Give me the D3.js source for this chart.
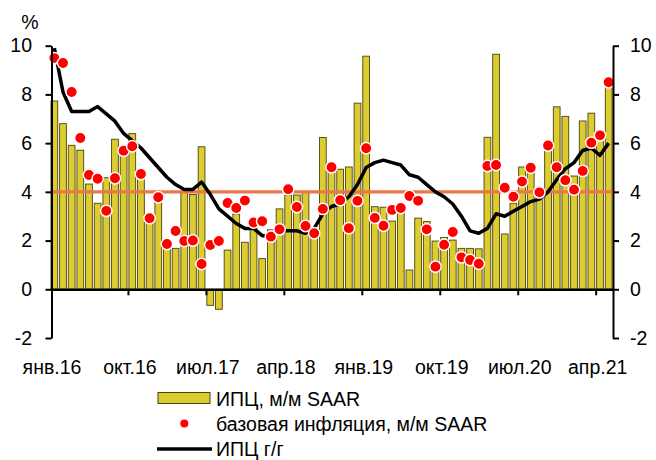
<!DOCTYPE html>
<html>
<head>
<meta charset="utf-8">
<script src="https://cdn.jsdelivr.net/npm/d3@7"></script>
<style>
  body { margin: 0; background: #fff; }
  text { font-family: "Liberation Sans", Arial, sans-serif; fill: #000; }
</style>
</head>
<body>
<div id="chart"></div>
<script>
// Months Jan 2016 .. May 2021
const months = d3.timeMonth.range(new Date(2016, 0, 1), new Date(2021, 5, 1));

// ИПЦ, м/м SAAR (bars)
const cpiMoM = [7.73, 6.80, 5.91, 5.71, 4.32, 3.53, 4.58, 6.16, 5.80, 6.39,
  4.62, 2.90, 3.60, 1.82, 1.68, 3.98, 3.89, 5.85, -0.66, -0.82,
  1.61, 3.09, 1.93, 2.78, 1.26, 2.44, 3.30, 3.87, 3.87, 3.97,
  2.44, 6.23, 5.10, 4.93, 5.02, 7.64, 9.57, 3.39, 3.37, 2.80,
  3.53, 0.79, 2.92, 2.78, 1.98, 2.13, 2.02, 1.68, 1.68, 1.66,
  6.24, 9.65, 2.27, 3.53, 5.02, 4.90, 3.94, 5.93, 7.49, 7.10,
  4.65, 6.91, 7.23, 6.10, 8.32];

// базовая инфляция, м/м SAAR (dots)
const coreMoM = [9.49, 9.29, 8.10, 6.21, 4.69, 4.54, 3.22, 4.56, 5.69, 5.87,
  4.73, 2.92, 3.78, 1.86, 2.39, 1.98, 2.00, 1.04, 1.82, 1.98,
  3.54, 3.34, 3.64, 2.74, 2.79, 2.16, 2.46, 4.11, 3.38, 2.60,
  2.30, 3.30, 5.01, 3.66, 2.51, 3.63, 5.79, 2.93, 2.61, 3.26,
  3.34, 3.83, 3.63, 2.46, 0.93, 1.83, 2.35, 1.31, 1.20, 1.05,
  5.06, 5.10, 4.17, 3.80, 4.42, 4.99, 3.98, 5.90, 5.01, 4.48,
  4.09, 4.86, 6.02, 6.32, 8.50];

// ИПЦ г/г (line)
const cpiYoY = [9.9, 8.1, 7.3, 7.3, 7.3, 7.5, 7.2, 6.9, 6.4, 6.1,
  5.8, 5.4, 5.0, 4.6, 4.3, 4.1, 4.1, 4.4, 3.9, 3.3,
  3.0, 2.7, 2.5, 2.5, 2.2, 2.2, 2.4, 2.4, 2.4, 2.3,
  2.5, 3.1, 3.4, 3.5, 3.8, 4.3, 5.0, 5.2, 5.3, 5.2,
  5.1, 4.7, 4.6, 4.3, 4.0, 3.8, 3.5, 3.0, 2.4, 2.3,
  2.5, 3.1, 3.0, 3.2, 3.4, 3.6, 3.7, 4.0, 4.5, 4.95,
  5.2, 5.7, 5.8, 5.5, 6.0];

const target = 4;
const yTicks = [-2, 0, 2, 4, 6, 8, 10];
const xLabels = ["янв.16", "окт.16", "июл.17", "апр.18", "янв.19", "окт.19", "июл.20", "апр.21"];
const labelEvery = 9;

const legendItems = ["ИПЦ, м/м SAAR", "базовая инфляция, м/м SAAR", "ИПЦ г/г"];

// Layout
const width = 656, height = 460;
const plotLeft = 50, plotRight = 613;
const axisLeftX = 51.5, axisRightX = 613;
const barFill = "#DDCC30", barStroke = "#4A4410";
const fontSize = "19.5px";

const svg = d3.select("#chart").append("svg")
  .attr("width", width).attr("height", height);

const idx = d3.range(months.length);

const x = d3.scaleBand()
  .domain(idx)
  .range([plotLeft, plotRight])
  .paddingInner(0.22)
  .paddingOuter(0.11);

// boundary scale for ticks between months
const xb = d3.scaleLinear().domain([0, months.length]).range([plotLeft, plotRight]);

const y = d3.scaleLinear().domain([-2, 10]).range([338, 45.7]);

// Bars
svg.append("g").selectAll("rect")
  .data(cpiMoM)
  .join("rect")
  .attr("x", (d, i) => x(i))
  .attr("width", x.bandwidth())
  .attr("y", d => y(Math.max(0, d)))
  .attr("height", d => Math.abs(y(d) - y(0)))
  .attr("fill", barFill)
  .attr("stroke", barStroke)
  .attr("stroke-width", 0.9);

// Target line at 4%
svg.append("line")
  .attr("x1", axisLeftX).attr("x2", axisRightX)
  .attr("y1", y(target)).attr("y2", y(target))
  .attr("stroke", "#E8784A")
  .attr("stroke-width", 3.3);

// CPI y/y line
const line = d3.line()
  .x((d, i) => x(i) + x.bandwidth() / 2)
  .y(d => y(d));

svg.append("path")
  .datum(cpiYoY)
  .attr("d", line)
  .attr("fill", "none")
  .attr("stroke", "#000")
  .attr("stroke-width", 3.5)
  .attr("stroke-linejoin", "round");

// Core inflation dots
svg.append("g").selectAll("circle")
  .data(coreMoM)
  .join("circle")
  .attr("cx", (d, i) => x(i) + x.bandwidth() / 2)
  .attr("cy", d => y(d))
  .attr("r", 5.7)
  .attr("fill", "#FF0000")
  .attr("stroke", "#fff")
  .attr("stroke-width", 1.5);

// Axes (plain hyphen for negatives, like the original)
const fmt = d => String(d);

const gLeft = svg.append("g")
  .attr("transform", `translate(${axisLeftX},0)`)
  .call(d3.axisLeft(y).tickValues(yTicks).tickSize(6).tickSizeOuter(0).tickPadding(13.5).tickFormat(fmt));

const gRight = svg.append("g")
  .attr("transform", `translate(${axisRightX},0)`)
  .call(d3.axisRight(y).tickValues(yTicks).tickSize(6).tickSizeOuter(0).tickPadding(11).tickFormat(fmt));

const gBottom = svg.append("g")
  .attr("transform", `translate(0,${y(0)})`)
  .call(d3.axisBottom(xb)
    .tickValues(d3.range(labelEvery, months.length, labelEvery))
    .tickSize(6).tickSizeOuter(0).tickFormat(""));

[gLeft, gRight, gBottom].forEach(g => {
  g.select(".domain").attr("stroke", "#000").attr("stroke-width", 2);
  g.selectAll(".tick line").attr("stroke", "#000").attr("stroke-width", 2);
  g.selectAll(".tick text")
    .style("font-family", '"Liberation Sans", Arial, sans-serif')
    .style("font-size", fontSize)
    .attr("fill", "#000");
});
gBottom.select(".domain").attr("stroke-width", 2.5);

// x labels
svg.append("g").selectAll("text")
  .data(xLabels)
  .join("text")
  .attr("x", (d, i) => xb(i * labelEvery) + 2)
  .attr("y", 374)
  .attr("text-anchor", "middle")
  .style("font-size", fontSize)
  .text(d => d);

// unit label
svg.append("text")
  .attr("x", 30).attr("y", 29)
  .attr("text-anchor", "middle")
  .style("font-size", fontSize)
  .text("%");

// Legend
const legend = svg.append("g");
const rowY = [406, 431, 455.5];
legend.append("rect")
  .attr("x", 158).attr("y", rowY[0] - 13.5)
  .attr("width", 52).attr("height", 11)
  .attr("fill", barFill).attr("stroke", barStroke).attr("stroke-width", 1);
legend.append("circle")
  .attr("cx", 184.3).attr("cy", rowY[1] - 7.5)
  .attr("r", 4).attr("fill", "#FF0000");
legend.append("line")
  .attr("x1", 157).attr("x2", 212)
  .attr("y1", rowY[2] - 6.5).attr("y2", rowY[2] - 6.5)
  .attr("stroke", "#000").attr("stroke-width", 3.5);
legend.selectAll("text")
  .data(legendItems)
  .join("text")
  .attr("x", 216)
  .attr("y", (d, i) => rowY[i])
  .style("font-size", fontSize)
  .text(d => d);
</script>
</body>
</html>
